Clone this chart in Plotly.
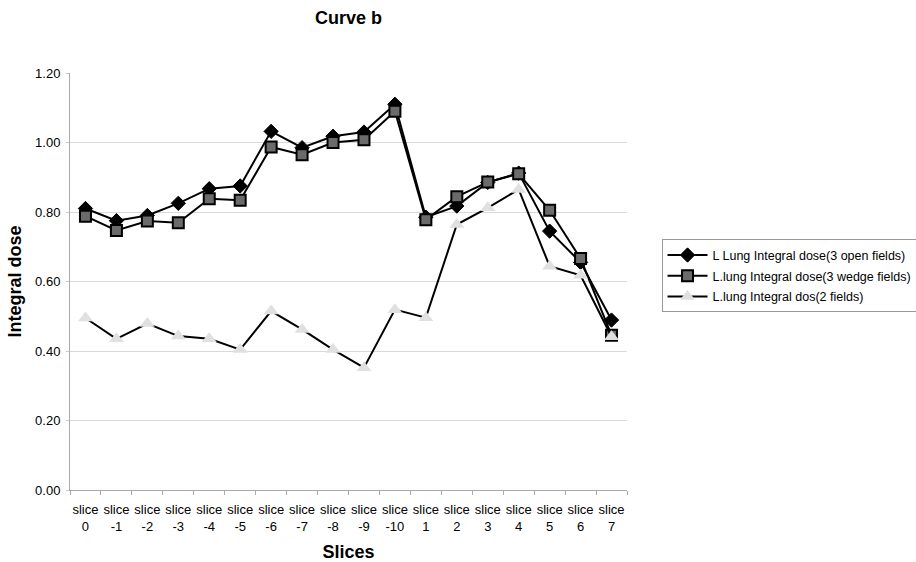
import plotly.graph_objects as go

categories = ["slice<br>0", "slice<br>-1", "slice<br>-2", "slice<br>-3", "slice<br>-4", "slice<br>-5",
              "slice<br>-6", "slice<br>-7", "slice<br>-8", "slice<br>-9", "slice<br>-10", "slice<br>1",
              "slice<br>2", "slice<br>3", "slice<br>4", "slice<br>5", "slice<br>6", "slice<br>7"]

open_fields = [0.81, 0.775, 0.79, 0.825, 0.867, 0.875, 1.032, 0.985, 1.018, 1.03, 1.11, 0.785,
               0.817, 0.885, 0.912, 0.745, 0.655, 0.489]
wedge_fields = [0.788, 0.747, 0.774, 0.769, 0.838, 0.834, 0.987, 0.965, 1.0, 1.008, 1.09, 0.778,
                0.844, 0.886, 0.91, 0.805, 0.666, 0.445]
two_fields = [0.495, 0.435, 0.479, 0.443, 0.435, 0.404, 0.515, 0.462, 0.404, 0.352, 0.519, 0.496,
              0.764, 0.812, 0.865, 0.644, 0.618, 0.441]

y_ticks = [0.0, 0.2, 0.4, 0.6, 0.8, 1.0, 1.2]

font = "Liberation Sans, Arial, sans-serif"

fig = go.Figure()
fig.add_trace(go.Scatter(
    x=categories, y=open_fields, mode="lines+markers",
    name="L Lung Integral dose(3 open fields)", legendgroup="a",
    line=dict(color="black", width=2),
    marker=dict(symbol="diamond", size=11, color="black", line=dict(color="black", width=1)),
))
fig.add_trace(go.Scatter(
    x=categories, y=wedge_fields, mode="lines+markers",
    name="L.lung Integral dose(3 wedge fields)", legendgroup="b",
    line=dict(color="black", width=2),
    marker=dict(symbol="square", size=11, color="#6b6b6b", line=dict(color="black", width=2)),
))
fig.add_trace(go.Scatter(
    x=categories, y=two_fields, mode="lines+markers",
    name="L.lung Integral dos(2 fields)", legendgroup="c",
    line=dict(color="black", width=2),
    marker=dict(symbol="triangle-up", size=13, color="#e0e0e0", line=dict(width=0)),
))

fig.update_layout(
    width=916, height=562,
    margin=dict(l=69.5, r=288.5, t=73, b=71.5, autoexpand=False),
    paper_bgcolor="white", plot_bgcolor="white",
    font=dict(family=font, size=13, color="black"),
    title=dict(text="<b>Curve b</b>", x=(69.5 + 627.5) / 2 / 916, xanchor="center",
               y=1 - 18 / 562, yanchor="middle", font=dict(size=18)),
    legend=dict(x=1.062, y=0.601, xanchor="left", yanchor="top",
                bordercolor="#999999", borderwidth=1, font=dict(size=12.5),
                traceorder="grouped", tracegroupgap=1.5, itemwidth=40),
    xaxis=dict(
        type="category", tickson="boundaries", ticks="outside", ticklen=4,
        tickcolor="#aaaaaa", showline=True, linecolor="#aaaaaa", linewidth=1,
        showgrid=False, tickfont=dict(size=13), tickangle=0, ticklabelstandoff=7,
        title=dict(text="<b>Slices</b>", font=dict(size=18), standoff=14),
        range=[-0.5, len(categories) - 0.5],
    ),
    yaxis=dict(
        range=[0, 1.2], tickvals=y_ticks, tickformat=".2f",
        ticks="outside", ticklen=3, tickcolor="#cccccc",
        showline=True, linecolor="#aaaaaa", linewidth=1,
        showgrid=True, gridcolor="#d9d9d9", gridwidth=1,
        zeroline=False, tickfont=dict(size=13), ticklabelstandoff=3,
        title=dict(text="<b>Integral dose</b>", font=dict(size=18), standoff=8),
    ),
)

fig.write_html("out.html")
